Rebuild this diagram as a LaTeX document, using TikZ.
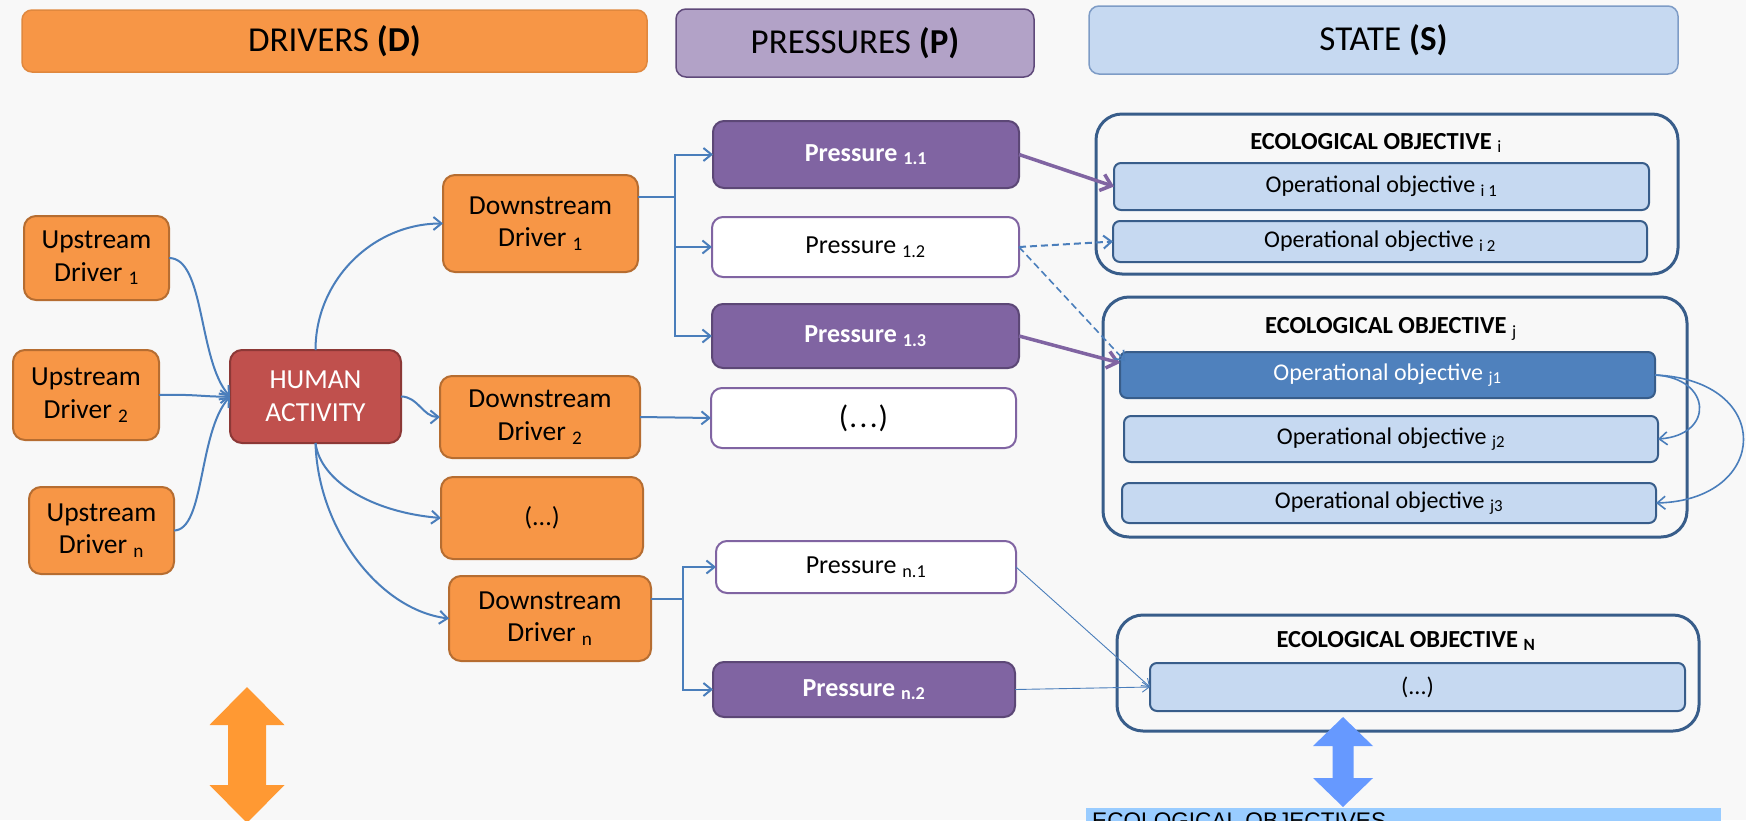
\documentclass[tikz,border=0pt]{standalone}
\usepackage{fontspec}
\setmainfont{Carlito}
\newfontfamily\stripfont{Liberation Sans}
\usetikzlibrary{arrows.meta,calc}

\definecolor{bgc}{HTML}{F8F8F8}
\definecolor{orfill}{HTML}{F79646}
\definecolor{orline}{HTML}{B66D31}
\definecolor{orhdrline}{HTML}{E0883E}
\definecolor{hafill}{HTML}{C0504D}
\definecolor{haline}{HTML}{8C3836}
\definecolor{pufill}{HTML}{8064A2}
\definecolor{puline}{HTML}{5C4776}
\definecolor{puhdr}{HTML}{B2A2C7}
\definecolor{puhdrline}{HTML}{5F497A}
\definecolor{sthdr}{HTML}{C6D9F1}
\definecolor{sthdrline}{HTML}{7E9CC6}
\definecolor{ecoline}{HTML}{385D8A}
\definecolor{oplight}{HTML}{C6D9F1}
\definecolor{opdark}{HTML}{4F81BD}
\definecolor{lnblue}{HTML}{4A7EBB}
\definecolor{orarrow}{HTML}{FF9933}
\definecolor{blarrow}{HTML}{6699FF}
\definecolor{stripblue}{HTML}{99CCFF}

\newcommand\fsz[2]{\fontsize{#1}{#2}\selectfont}
\newcommand\dotsgap{(\kern1pt.\kern2.5pt.\kern2.5pt.\kern1pt)}

\tikzset{
  sz/.style 2 args={minimum width=#1, minimum height=#2},
  hdr/.style={rounded corners=10pt, line width=1.5pt, inner sep=0pt, outer sep=0pt,
              font=\fsz{35}{40}},
  drvbox/.style={rounded corners=12pt, line width=2pt, fill=orfill, draw=orline,
                 inner sep=0pt, outer sep=0pt, align=center, font=\fsz{27.5}{32.5}},
  habox/.style={fill=hafill, draw=haline, text=white},
  pbase/.style={rounded corners=11pt, line width=2pt, inner sep=0pt, outer sep=0pt,
                align=center, font=\fsz{26}{30}},
  pfull/.style={pbase, fill=pufill, draw=puline, text=white, font=\bfseries\fsz{26}{30}},
  pempty/.style={pbase, fill=white, draw=pufill},
  ecobox/.style={rounded corners=26pt, line width=3pt, draw=ecoline, inner sep=0pt, outer sep=0pt},
  ecotitle/.style={inner sep=0pt, font=\bfseries\fsz{24.5}{28}},
  opbox/.style={rounded corners=7pt, line width=2pt, fill=oplight, draw=ecoline,
                inner sep=0pt, outer sep=0pt, font=\fsz{24}{28}},
  opdk/.style={fill=opdark, text=white},
  wire/.style={draw=lnblue, line width=2pt},
  conn/.style={wire, -{Straight Barb[length=8pt,width=13pt]}},
  parr/.style={draw=pufill, line width=3.5pt, -{Straight Barb[length=10pt,width=17pt]}},
  thinconn/.style={draw=lnblue, line width=0.9pt, -{Straight Barb[length=7pt,width=10pt]}},
}

\begin{document}
\begin{tikzpicture}[x=1pt,y=-1pt]
\useasboundingbox (0,0) rectangle (1746,820);
\clip (0,0) rectangle (1746,820);
\fill[bgc] (0,0) rectangle (1746,820);

% column headers
\node[hdr, fill=orfill, draw=orhdrline, sz={625}{62}] (hd) at (334.5,41) {DRIVERS \textbf{(D)}};
\node[hdr, fill=puhdr, draw=puhdrline, sz={358}{68}] (hp) at (855,43) {PRESSURES \textbf{(P)}};
\node[hdr, fill=sthdr, draw=sthdrline, sz={589}{68}] (hs) at (1383.5,40) {STATE \textbf{(S)}};

% drivers
\node[drvbox, sz={145}{84}] (ud1) at (96.5,258) {Upstream\\Driver \textsubscript{1}};
\node[drvbox, sz={146}{90}] (ud2) at (86,395) {Upstream\\Driver \textsubscript{2}};
\node[drvbox, sz={145}{87}] (udn) at (101.5,530.5) {Upstream\\Driver \textsubscript{n}};
\node[drvbox, habox, sz={171}{93}] (ha) at (315.5,396.5) {HUMAN\\ACTIVITY};
\node[drvbox, sz={195}{97}] (dd1) at (540.5,223.5) {Downstream\\Driver \textsubscript{1}};
\node[drvbox, sz={200}{82}] (dd2) at (540,417) {Downstream\\Driver \textsubscript{2}};
\node[drvbox, sz={202}{82}, font=\fsz{26}{30}] (ddd) at (542,518) {(...)};
\node[drvbox, sz={202}{85}] (ddn) at (550,618.5) {Downstream\\Driver \textsubscript{n}};

% pressures
\node[pfull, sz={306}{67}] (p11) at (866,154.5) {Pressure \textsubscript{1.1}};
\node[pempty, sz={307}{60}] (p12) at (865.5,247) {Pressure \textsubscript{1.2}};
\node[pfull, sz={307}{64}] (p13) at (865.5,336) {Pressure \textsubscript{1.3}};
\node[pempty, sz={305}{60}, font=\fsz{31}{34}] (pdd) at (863.5,418) {\dotsgap};
\node[pempty, sz={300}{52}] (pn1) at (866,567) {Pressure \textsubscript{n.1}};
\node[pfull, sz={302}{55}] (pn2) at (864,689.5) {Pressure \textsubscript{n.2}};

% state: ecological objectives
\node[ecobox, sz={582}{160}] (ei) at (1387,194) {};
\node[ecotitle] (ti) at (1376,143) {ECOLOGICAL OBJECTIVE \textsubscript{\mdseries i}};
\node[opbox, sz={535}{47}] (oi1) at (1381.5,186.5) {Operational objective \textsubscript{i 1}};
\node[opbox, sz={534}{41}] (oi2) at (1380,241.5) {Operational objective \textsubscript{i 2}};

\node[ecobox, sz={584}{240}] (ej) at (1395,417) {};
\node[ecotitle] (tj) at (1391,329) {ECOLOGICAL OBJECTIVE \textsubscript{\mdseries j}};
\node[opbox, opdk, sz={535}{46}] (oj1) at (1387.5,375) {Operational objective \textsubscript{j1}};
\node[opbox, sz={534}{46}] (oj2) at (1391,439) {Operational objective \textsubscript{j2}};
\node[opbox, sz={534}{40}] (oj3) at (1389,503) {Operational objective \textsubscript{j3}};

\node[ecobox, sz={582}{116}] (en) at (1408,673) {};
\node[ecotitle] (tn) at (1406,641) {ECOLOGICAL OBJECTIVE \textsubscript{N}};
\node[opbox, sz={535}{48}] (on) at (1417.5,687) {(...)};

% upstream drivers into human activity
\draw[conn] (ud1.east) .. controls (205,258) and (198,360) .. (ha.west);
\draw[conn] (ud2.east) .. controls (195,394) and (205,397) .. (ha.west);
\draw[conn] (udn.east) .. controls (205,530) and (198,433) .. (ha.west);

% human activity to downstream drivers
\draw[conn] (ha.north) .. controls (315.5,280) and (373,223.5) .. (dd1.west);
\draw[conn] (ha.east) to[out=0,in=180] (dd2.west);
\draw[conn] (ha.south) .. controls (320,480) and (370,512) .. (ddd.west);
\draw[conn] (ha.south) .. controls (318,530) and (380,610) .. (ddn.west);

% downstream drivers to pressures
\coordinate (j1) at (675,197);
\draw[wire] (dd1.east |- j1) -- (j1);
\draw[conn] (j1) |- (p11.west);
\draw[conn] (j1) |- (p12.west);
\draw[conn] (j1) |- (p13.west);
\draw[conn] (dd2.east) -- (pdd.west);
\coordinate (jn) at (683,599);
\draw[wire] (ddn.east |- jn) -- (jn);
\draw[conn] (jn) |- (pn1.west);
\draw[conn] (jn) |- (pn2.west);

% pressures to operational objectives
\draw[parr] (p11.east) -- (oi1.west);
\draw[parr] (p13.east) -- ([yshift=12pt]oj1.west);
\draw[conn, dashed, dash pattern=on 7pt off 4pt] (p12.east) -- (oi2.west);
\draw[conn, dashed, dash pattern=on 7pt off 4pt, line width=1.6pt] (p12.east) -- ([xshift=5pt,yshift=-9pt]oj1.north west);
\draw[thinconn] (pn1.east) -- (on.west);
\draw[thinconn] (pn2.east) -- (on.west);

% links between operational objectives
\draw[conn, line width=1.6pt] (oj1.east) .. controls (1712,378) and (1715,435) .. (oj2.east);
\draw[conn, line width=1.6pt] (oj1.east) .. controls (1775,380) and (1770,500) .. (oj3.east);

% double-headed block arrows
\fill[orarrow] (247,687) -- (284.5,725) -- (266,725) -- (266,785) -- (284.5,785) -- (247,823)
  -- (209.5,785) -- (228,785) -- (228,725) -- (209.5,725) -- cycle;
\fill[blarrow] (1343,717) -- (1373,746) -- (1353.5,746) -- (1353.5,778) -- (1373,778) -- (1343,807)
  -- (1313,778) -- (1332.5,778) -- (1332.5,746) -- (1313,746) -- cycle;

% bottom band
\fill[stripblue] (1086,808) rectangle (1721,830);
\node[anchor=base west, inner sep=0pt, font=\stripfont\fsz{22.6}{26}] (band) at (1092,828) {ECOLOGICAL OBJECTIVES};
\end{tikzpicture}
\end{document}
